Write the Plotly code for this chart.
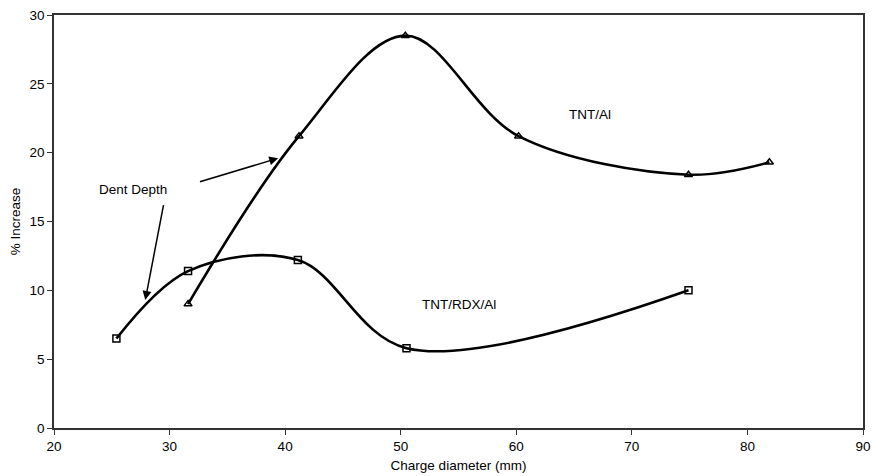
import plotly.graph_objects as go

# TNT/Al series (triangles)
tnt_al_x = [31.6, 41.2, 50.4, 60.2, 74.9, 81.9]
tnt_al_y = [9.0, 21.2, 28.5, 21.2, 18.4, 19.3]

# TNT/RDX/Al series (squares)
tnt_rdx_x = [25.4, 31.6, 41.1, 50.5, 74.9]
tnt_rdx_y = [6.5, 11.4, 12.2, 5.8, 10.0]

x_ticks = [20, 30, 40, 50, 60, 70, 80, 90]
y_ticks = [0, 5, 10, 15, 20, 25, 30]

FONT = "Liberation Sans, Arial, sans-serif"

fig = go.Figure()
fig.add_trace(go.Scatter(
    x=tnt_al_x, y=tnt_al_y, mode="lines+markers", name="TNT/Al",
    line=dict(color="black", width=2.6, shape="spline", smoothing=1.0),
    marker=dict(symbol="triangle-up-open", size=7, color="black", line=dict(width=1.5)),
))
fig.add_trace(go.Scatter(
    x=tnt_rdx_x, y=tnt_rdx_y, mode="lines+markers", name="TNT/RDX/Al",
    line=dict(color="black", width=2.6, shape="spline", smoothing=1.0),
    marker=dict(symbol="square-open", size=7, color="black", line=dict(width=1.5)),
))

fig.add_annotation(x=66.4, y=22.75, text="TNT/Al", showarrow=False,
                   font=dict(size=13.5, color="black", family=FONT))
fig.add_annotation(x=55.0, y=9.0, text="TNT/RDX/Al", showarrow=False,
                   font=dict(size=13.5, color="black", family=FONT))
fig.add_annotation(x=26.8, y=17.3, text="Dent Depth", showarrow=False,
                   font=dict(size=13.5, color="black", family=FONT))
# arrows
fig.add_annotation(x=27.9, y=9.3, ax=29.5, ay=16.3, xref="x", yref="y",
                   axref="x", ayref="y", text="", showarrow=True,
                   arrowhead=2, arrowsize=1.2, arrowwidth=1.5, arrowcolor="black")
fig.add_annotation(x=39.4, y=19.6, ax=32.5, ay=17.85, xref="x", yref="y",
                   axref="x", ayref="y", text="", showarrow=True,
                   arrowhead=2, arrowsize=1.2, arrowwidth=1.5, arrowcolor="black")

fig.update_layout(
    width=872, height=476,
    margin=dict(l=54, r=9, t=15, b=48, autoexpand=False),
    paper_bgcolor="white", plot_bgcolor="white",
    showlegend=False,
    font=dict(family=FONT, size=12, color="black"),
    xaxis=dict(
        range=[20, 90], tickvals=x_ticks, ticks="outside", ticklen=5,
        showgrid=False, zeroline=False, showline=True, linecolor="#333",
        linewidth=1.5, mirror=True, tickcolor="#333", automargin=False,
        tickfont=dict(size=13.5, family=FONT),
        title=dict(text="Charge diameter (mm)", font=dict(size=13.5, family=FONT), standoff=8),
    ),
    yaxis=dict(
        range=[0, 30], tickvals=y_ticks, ticks="outside", ticklen=5,
        showgrid=False, zeroline=False, showline=True, linecolor="#333",
        linewidth=1.5, mirror=True, tickcolor="#333", automargin=False,
        tickfont=dict(size=13.5, family=FONT),
        title=dict(text="% Increase", font=dict(size=13.5, family=FONT), standoff=6),
    ),
)

fig.write_html("out.html", config={"displayModeBar": False},
               post_script="document.body.style.margin='0';document.body.style.overflow='hidden';")
